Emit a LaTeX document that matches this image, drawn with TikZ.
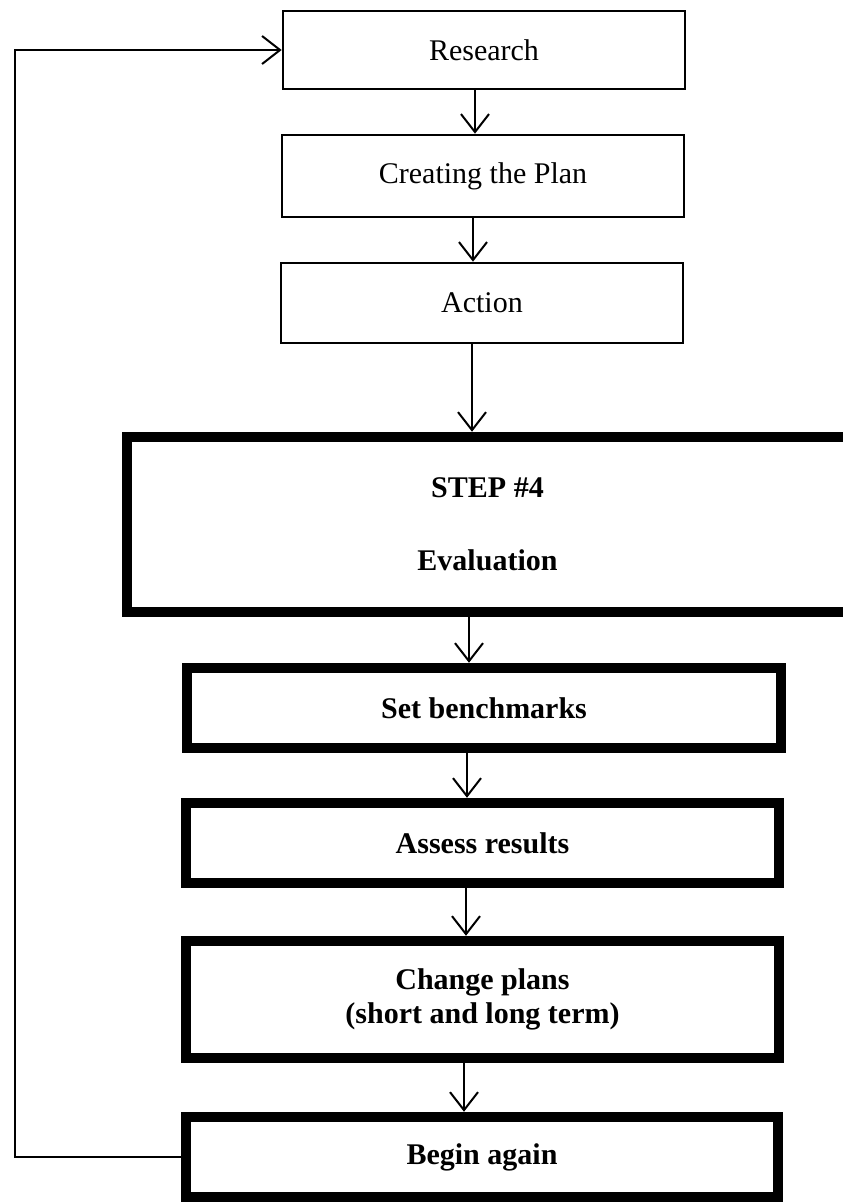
\documentclass[tikz,border=0pt]{standalone}
\usepackage{fontspec}
\setmainfont{Liberation Serif}
\usetikzlibrary{arrows.meta}
\begin{document}
\begin{tikzpicture}[x=1pt,y=-1pt,
  thinbox/.style={draw, rectangle, line width=2.6pt, inner sep=0pt, align=center,
    font=\fontsize{30}{34}\selectfont},
  thickbox/.style={draw, rectangle, line width=10.5pt, inner sep=0pt, align=center,
    font=\bfseries\fontsize{30}{34}\selectfont},
  arr/.style={line width=2pt, -{Straight Barb[length=18pt,width=28pt]}}
]
\path[use as bounding box] (0,0) rectangle (843,1202);
\clip (0,0) rectangle (843,1202);

% first three stages
\node[thinbox, minimum width=402pt, minimum height=78pt] (research) at (484,50) {Research};
\node[thinbox, minimum width=402pt, minimum height=82pt] (plan) at (483,176) {Creating the Plan};
\node[thinbox, minimum width=402pt, minimum height=80pt] (action) at (482,303) {Action};

% evaluation stage and its sub-steps
\node[thickbox, minimum width=721pt, minimum height=175pt] (eval) at (487.5,524.5) {STEP \#4\\[39pt]Evaluation};
\node[thickbox, minimum width=594pt, minimum height=80pt] (setb) at (484,708) {Set benchmarks};
\node[thickbox, minimum width=593pt, minimum height=80pt] (assess) at (482.5,843) {Assess results};
\node[thickbox, minimum width=593pt, minimum height=117pt] (change) at (482.5,999.5) {Change plans\\(short and long term)};
\node[thickbox, minimum width=592pt, minimum height=80pt] (begin) at (482,1157) {Begin again};

% downward flow
\draw[arr] ([xshift=-9pt]research.south) -- ([xshift=-9pt]research.south |- plan.north);
\draw[arr] ([xshift=-10pt]plan.south) -- ([xshift=-10pt]plan.south |- action.north);
\draw[arr] ([xshift=-10pt]action.south) -- ([xshift=-10pt]action.south |- eval.north);
\draw[arr] ([xshift=-15pt]setb.north |- eval.south) -- ([xshift=-15pt]setb.north);
\draw[arr] ([xshift=-17pt]setb.south) -- ([xshift=-17pt]setb.south |- assess.north);
\draw[arr] ([xshift=-16.5pt]assess.south) -- ([xshift=-16.5pt]assess.south |- change.north);
\draw[arr] ([xshift=-18.5pt]change.south) -- ([xshift=-18.5pt]change.south |- begin.north);

% return loop to the start
\coordinate (loopx) at (15,600);
\draw[arr] (begin.west) -| (loopx) |- (research.west);
\end{tikzpicture}
\end{document}
